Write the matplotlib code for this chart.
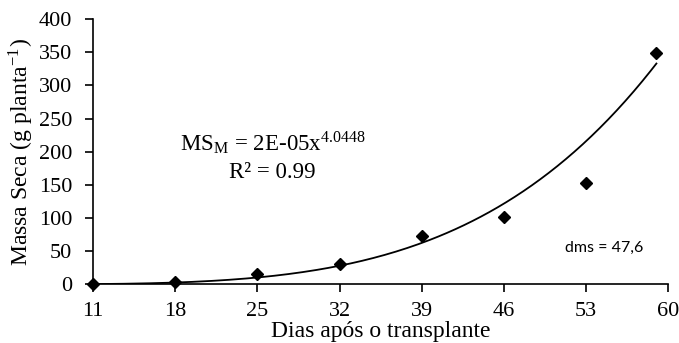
import numpy as np
import matplotlib
matplotlib.use("Agg")
import matplotlib.pyplot as plt

# observed data
dias = [11, 18, 25, 32, 39, 46, 53, 59]
massa_seca = [0, 3.5, 15.5, 30, 73, 102, 152.5, 349]

# fitted power model  MS = a * x^b
coef_a = 2.29e-05
coef_b = 4.0448

xticks = [11, 18, 25, 32, 39, 46, 53, 60]
yticks = [0, 50, 100, 150, 200, 250, 300, 350, 400]

plt.rcParams['font.family'] = ['Liberation Serif', 'DejaVu Serif']
plt.rcParams['mathtext.fontset'] = 'stix'

fig = plt.figure(figsize=(6.79, 3.43), dpi=100)
ax = fig.add_axes([0.137, 0.171, 0.847, 0.773])

xfit = np.linspace(11, 59, 200)
ax.plot(xfit, coef_a * xfit ** coef_b, color='black', lw=1.3, zorder=2)
ax.plot(dias, massa_seca, linestyle='none', marker='D', markersize=6.5,
        color='black', zorder=3, clip_on=False)

ax.set_xlim(11, 60)
ax.set_ylim(0, 400)
ax.set_xticks(xticks)
ax.set_yticks(yticks)
ax.tick_params(direction='out', length=6, width=1.2, labelsize=16)
ax.tick_params(axis='x', pad=7)
ax.tick_params(axis='y', pad=9)
for s in ['top', 'right']:
    ax.spines[s].set_visible(False)
for s in ['left', 'bottom']:
    ax.spines[s].set_linewidth(1.2)

ax.set_xlabel("Dias após o transplante", fontsize=17, labelpad=0)
ax.set_ylabel("Massa Seca (g planta$^{\\mathregular{-1}}$)", fontsize=17, labelpad=2)

fig.text(0.402, 0.583, "MS$_{\\mathregular{M}}$ = 2E-05x$^{\\mathregular{4.0448}}$",
         fontsize=16.5, ha='center', va='center')
fig.text(0.401, 0.496, "R² = 0.99", fontsize=16.5, ha='center', va='center')
ax.text(0.957, 0.136, "dms = 47,6", transform=ax.transAxes, fontsize=11.5,
        family=['Lato', 'DejaVu Sans'], ha='right', va='center')

fig.savefig("out.png", dpi=100)
